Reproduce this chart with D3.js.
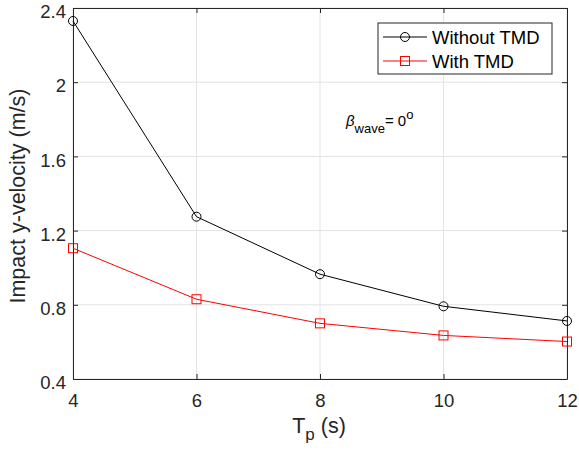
<html>
<head>
<meta charset="utf-8">
<title>Impact y-velocity</title>
<script src="https://d3js.org/d3.v7.min.js"></script>
<style>
body { margin: 0; background: #fff; }
text { font-family: Arial, "Liberation Sans", sans-serif; }
</style>
</head>
<body>
<svg width="579" height="454"></svg>
<script>
var periods = [4, 6, 8, 10, 12];
var withoutTMD = [2.33, 1.275, 0.965, 0.792, 0.713];
var withTMD = [1.105, 0.83, 0.70, 0.635, 0.602];
var xTicks = [4, 6, 8, 10, 12];
var yTicks = [0.4, 0.8, 1.2, 1.6, 2, 2.4];

var svg = d3.select("svg"),
    margin = {top: 8, right: 12, bottom: 75, left: 73},
    width = +svg.attr("width") - margin.left - margin.right,
    height = +svg.attr("height") - margin.top - margin.bottom,
    g = svg.append("g").attr("transform", `translate(${margin.left},${margin.top})`);

var x = d3.scaleLinear().domain([4, 12]).range([0, width]);
var y = d3.scaleLinear().domain([0.4, 2.4]).range([height, 0]);

// grid
g.selectAll(".gx").data(xTicks).enter().append("line")
  .attr("x1", d => x(d)).attr("x2", d => x(d))
  .attr("y1", 0).attr("y2", height)
  .attr("stroke", "#e3e3e3");
g.selectAll(".gy").data(yTicks).enter().append("line")
  .attr("y1", d => y(d)).attr("y2", d => y(d))
  .attr("x1", 0).attr("x2", width)
  .attr("stroke", "#e3e3e3");

// axes with inward ticks
var fmt = d => d3.format("")(d);
var ax = g.append("g").attr("transform", `translate(0,${height})`)
  .call(d3.axisBottom(x).tickValues(xTicks).tickSizeInner(-5).tickSizeOuter(0).tickPadding(14).tickFormat(fmt));
var ay = g.append("g")
  .call(d3.axisLeft(y).tickValues(yTicks).tickSizeInner(-5).tickSizeOuter(0).tickPadding(7).tickFormat(fmt));
var at = g.append("g")
  .call(d3.axisTop(x).tickValues(xTicks).tickSizeInner(-5).tickSizeOuter(0).tickFormat(""));
var ar = g.append("g").attr("transform", `translate(${width},0)`)
  .call(d3.axisRight(y).tickValues(yTicks).tickSizeInner(-5).tickSizeOuter(0).tickFormat(""));
[ax, ay, at, ar].forEach(a => {
  a.selectAll("path,line").attr("stroke", "#262626");
  a.selectAll("text").attr("fill", "#262626").style("font-size", "18.5px")
    .style("font-family", "Arial, 'Liberation Sans', sans-serif");
});
ax.selectAll("text").attr("dy", "0.75em");
ay.selectAll("text").attr("dy", "0.52em");

var line = d3.line().x((d, i) => x(periods[i])).y(d => y(d));

g.append("path").datum(withoutTMD).attr("d", line)
  .attr("fill", "none").attr("stroke", "#000").attr("stroke-width", 1);
g.append("path").datum(withTMD).attr("d", line)
  .attr("fill", "none").attr("stroke", "#ff0000").attr("stroke-width", 1);

g.selectAll(".c").data(withoutTMD).enter().append("circle")
  .attr("cx", (d, i) => x(periods[i])).attr("cy", d => y(d)).attr("r", 4.5)
  .attr("fill", "none").attr("stroke", "#000");
g.selectAll(".s").data(withTMD).enter().append("rect")
  .attr("x", (d, i) => x(periods[i]) - 4.5).attr("y", d => y(d) - 4.5)
  .attr("width", 9).attr("height", 9)
  .attr("fill", "none").attr("stroke", "#ff0000");

// legend
var lg = svg.append("g").attr("transform", "translate(378,23)");
lg.append("rect").attr("width", 174).attr("height", 51)
  .attr("fill", "#fff").attr("stroke", "#262626").attr("stroke-width", 1);
var items = [{name: "Without TMD", color: "#000", mark: "circle"},
             {name: "With TMD", color: "#ff0000", mark: "rect"}];
items.forEach((it, i) => {
  var yy = 14 + i * 24;
  lg.append("line").attr("x1", 5).attr("x2", 49).attr("y1", yy).attr("y2", yy)
    .attr("stroke", it.color);
  if (it.mark === "circle")
    lg.append("circle").attr("cx", 27).attr("cy", yy).attr("r", 4.5)
      .attr("fill", "none").attr("stroke", it.color);
  else
    lg.append("rect").attr("x", 22.5).attr("y", yy - 4.5).attr("width", 9).attr("height", 9)
      .attr("fill", "none").attr("stroke", it.color);
  lg.append("text").attr("x", 54).attr("y", yy + 6.5).text(it.name)
    .style("font-size", "18.5px").attr("fill", "#000");
});

// annotation
var ann = svg.append("text").attr("x", 346).attr("y", 126).attr("fill", "#000").style("font-size", "15px");
ann.append("tspan").text("β").style("font-style", "italic");
ann.append("tspan").text("wave").attr("dy", 7).style("font-size", "13px");
ann.append("tspan").text("= 0").attr("dy", -7);
ann.append("tspan").text("o").attr("dy", -7).style("font-size", "13px");

// axis labels
svg.append("text").attr("x", 319).attr("y", 433).attr("text-anchor", "middle")
  .style("font-size", "21.5px").attr("fill", "#262626")
  .call(t => { t.append("tspan").text("T"); t.append("tspan").text("p").attr("dy", 7).style("font-size", "17px"); t.append("tspan").text(" (s)").attr("dy", -7); });
svg.append("text").attr("transform", "translate(25,196) rotate(-90)").attr("text-anchor", "middle")
  .style("font-size", "21.5px").attr("fill", "#262626").text("Impact y-velocity (m/s)");
</script>
</body>
</html>
